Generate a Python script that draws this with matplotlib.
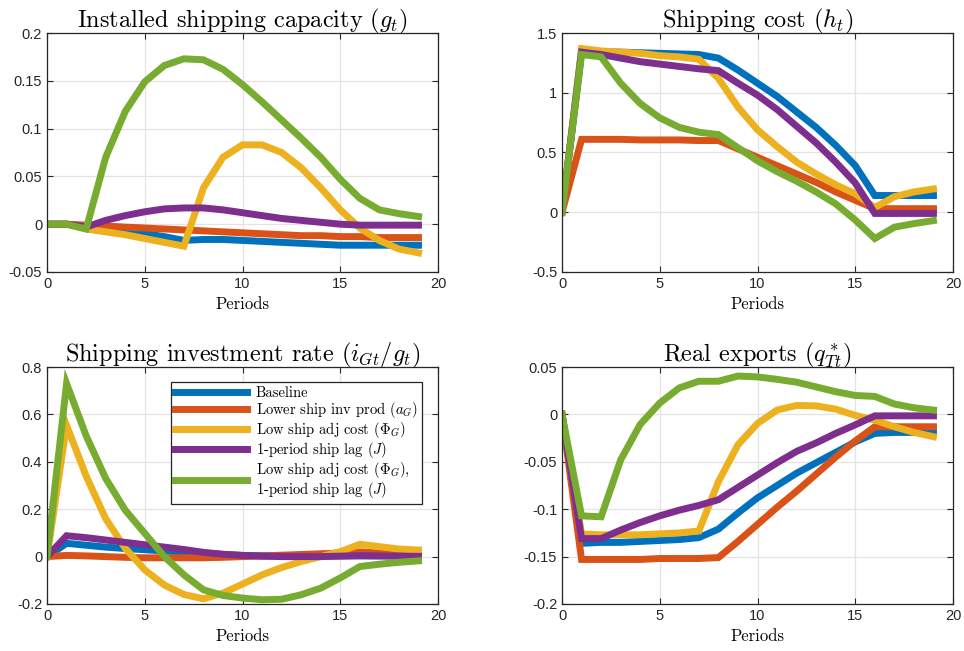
# Impulse responses for four shipping scenarios, 2x2 panels
import matplotlib.pyplot as plt
import numpy as np
from matplotlib.ticker import FuncFormatter

plt.rcParams['mathtext.fontset'] = 'cm'
plt.rcParams['axes.unicode_minus'] = False
plt.rcParams['font.family'] = ['Liberation Sans', 'DejaVu Sans']

periods = np.arange(20)

labels = ['Baseline',
          r'Lower ship inv prod $(a_G)$',
          r'Low ship adj cost $(\Phi_G)$',
          r'1-period ship lag $(J)$',
          'Low ship adj cost $(\\Phi_G)$,\n1-period ship lag $(J)$']
colors = ['#0072BD', '#D95319', '#EDB120', '#7E2F8E', '#77AC30']

# Installed shipping capacity
cap_base = [0, 0, -0.003, -0.005, -0.008, -0.010, -0.013, -0.017, -0.016, -0.016,
            -0.017, -0.018, -0.019, -0.020, -0.021, -0.022, -0.022, -0.022, -0.022, -0.022]
cap_invprod = [0, 0, -0.001, -0.002, -0.003, -0.004, -0.005, -0.006, -0.007, -0.008,
               -0.009, -0.010, -0.011, -0.012, -0.012, -0.013, -0.013, -0.014, -0.014, -0.014]
cap_adj = [0, 0, -0.005, -0.008, -0.011, -0.015, -0.019, -0.023, 0.038, 0.070,
           0.083, 0.083, 0.075, 0.059, 0.038, 0.015, -0.004, -0.017, -0.026, -0.030]
cap_lag = [0, 0, -0.003, 0.004, 0.009, 0.013, 0.016, 0.017, 0.017, 0.015,
           0.012, 0.009, 0.006, 0.004, 0.002, 0.000, -0.001, -0.001, -0.001, -0.001]
cap_both = [0, 0, -0.005, 0.070, 0.118, 0.149, 0.166, 0.173, 0.172, 0.162,
            0.146, 0.128, 0.109, 0.090, 0.070, 0.047, 0.027, 0.015, 0.011, 0.008]

# Shipping cost
cost_base = [0, 1.35, 1.345, 1.34, 1.335, 1.33, 1.325, 1.32, 1.29, 1.19,
             1.08, 0.97, 0.84, 0.71, 0.56, 0.39, 0.14, 0.14, 0.14, 0.14]
cost_invprod = [0, 0.61, 0.61, 0.61, 0.605, 0.605, 0.605, 0.60, 0.60, 0.53,
                0.46, 0.39, 0.32, 0.25, 0.17, 0.10, 0.03, 0.03, 0.03, 0.03]
cost_adj = [0, 1.37, 1.35, 1.34, 1.33, 1.31, 1.30, 1.28, 1.12, 0.88,
            0.69, 0.55, 0.42, 0.32, 0.23, 0.155, 0.04, 0.13, 0.17, 0.195]
cost_lag = [0, 1.34, 1.32, 1.29, 1.26, 1.24, 1.22, 1.20, 1.185, 1.08,
            0.98, 0.86, 0.72, 0.58, 0.42, 0.245, -0.01, -0.01, -0.01, -0.01]
cost_both = [0, 1.32, 1.30, 1.08, 0.91, 0.79, 0.71, 0.67, 0.65, 0.54,
             0.43, 0.34, 0.26, 0.17, 0.07, -0.065, -0.22, -0.125, -0.095, -0.07]

# Shipping investment rate
inv_base = [0, 0.056, 0.048, 0.040, 0.034, 0.029, 0.024, 0.019, 0.014, 0.009,
            0.005, 0.003, 0.003, 0.003, 0.003, 0.003, 0.003, 0.003, 0.003, 0.003]
inv_invprod = [0, 0.005, 0.003, 0.0, -0.003, -0.005, -0.005, -0.005, -0.005, -0.003,
               0.0, 0.003, 0.006, 0.009, 0.012, 0.015, 0.020, 0.015, 0.008, 0.003]
inv_adj = [0, 0.554, 0.34, 0.16, 0.035, -0.056, -0.12, -0.16, -0.178, -0.154,
           -0.116, -0.077, -0.046, -0.021, 0.0, 0.021, 0.052, 0.042, 0.032, 0.028]
inv_lag = [0, 0.088, 0.080, 0.070, 0.060, 0.050, 0.040, 0.030, 0.018, 0.010,
           0.005, 0.002, 0.0, 0.0, 0.0, 0.002, 0.004, 0.003, 0.002, 0.001]
inv_both = [0, 0.73, 0.51, 0.33, 0.196, 0.098, 0.0, -0.077, -0.14, -0.164,
            -0.175, -0.182, -0.18, -0.161, -0.133, -0.09, -0.042, -0.032, -0.024, -0.018]

# Real exports
exp_base = [0, -0.136, -0.135, -0.135, -0.134, -0.133, -0.132, -0.130, -0.121, -0.104,
            -0.088, -0.075, -0.062, -0.051, -0.040, -0.029, -0.020, -0.019, -0.019, -0.019]
exp_invprod = [0, -0.153, -0.153, -0.153, -0.153, -0.152, -0.152, -0.152, -0.151, -0.134,
               -0.116, -0.098, -0.081, -0.063, -0.045, -0.028, -0.013, -0.013, -0.013, -0.013]
exp_adj = [0, -0.126, -0.127, -0.127, -0.127, -0.126, -0.125, -0.123, -0.071, -0.032,
           -0.0095, 0.0046, 0.0095, 0.009, 0.0056, -0.001, -0.006, -0.013, -0.019, -0.0235]
exp_lag = [0, -0.131, -0.131, -0.122, -0.114, -0.107, -0.101, -0.096, -0.090, -0.077,
           -0.064, -0.051, -0.039, -0.030, -0.020, -0.011, -0.0015, -0.0015, -0.0015, -0.0015]
exp_both = [0, -0.107, -0.108, -0.048, -0.0105, 0.012, 0.028, 0.035, 0.035, 0.0405,
            0.0396, 0.037, 0.034, 0.029, 0.024, 0.020, 0.019, 0.011, 0.007, 0.0046]

panels = [
    (r'Installed shipping capacity $(g_t)$',
     [cap_base, cap_invprod, cap_adj, cap_lag, cap_both], (-0.05, 0.2), 0.05),
    (r'Shipping cost $(h_t)$',
     [cost_base, cost_invprod, cost_adj, cost_lag, cost_both], (-0.5, 1.5), 0.5),
    (r'Shipping investment rate $(i_{Gt}/g_t)$',
     [inv_base, inv_invprod, inv_adj, inv_lag, inv_both], (-0.2, 0.8), 0.2),
    (r'Real exports $(q^*_{Tt})$',
     [exp_base, exp_invprod, exp_adj, exp_lag, exp_both], (-0.2, 0.05), 0.05),
]

positions = [
    [0.0488, 0.5822, 0.4056, 0.3671],
    [0.5830, 0.5822, 0.4056, 0.3671],
    [0.0488, 0.0722, 0.4056, 0.3640],
    [0.5830, 0.0722, 0.4056, 0.3640],
]


def tick_fmt(v, pos):
    v = round(v, 6) + 0.0
    if v == 0:
        return '0'
    return '%g' % v


fig = plt.figure(figsize=(9.64, 6.51), dpi=100)

for i, (title, series, ylim, step) in enumerate(panels):
    ax = fig.add_axes(positions[i])
    for s, c, lab in zip(series, colors, labels):
        ax.plot(periods, s, color=c, lw=5, label=lab, solid_joinstyle='miter')
    ax.set_xlim(0, 20)
    ax.set_ylim(*ylim)
    ax.set_xticks(np.arange(0, 21, 5))
    ax.set_yticks(np.arange(ylim[0], ylim[1] + step / 2, step))
    ax.yaxis.set_major_formatter(FuncFormatter(tick_fmt))
    ax.grid(True, color='#e3e3e3', lw=0.9)
    ax.set_axisbelow(True)
    ax.tick_params(direction='in', top=True, right=True, length=4,
                   labelsize=10.5, colors='#262626', width=0.8)
    for sp in ax.spines.values():
        sp.set_color('#262626')
        sp.set_linewidth(0.9)
    ax.set_title(title, family='cmr10', fontsize=17.5, pad=4)
    ax.set_xlabel('Periods', family='cmr10', fontsize=12, labelpad=4)
    if i == 2:
        leg = ax.legend(loc='upper right', bbox_to_anchor=(0.959, 0.937),
                        borderaxespad=0, fancybox=False, handlelength=4.9,
                        prop={'family': 'cmr10', 'size': 10.5},
                        labelspacing=0.0, borderpad=0.3, handletextpad=0.6)
        leg.get_frame().set_edgecolor('#262626')
        leg.get_frame().set_linewidth(0.9)
        leg.get_frame().set_alpha(1)
        leg.get_texts()[4].set_linespacing(1.0)

fig.savefig('out.png', dpi=100)
